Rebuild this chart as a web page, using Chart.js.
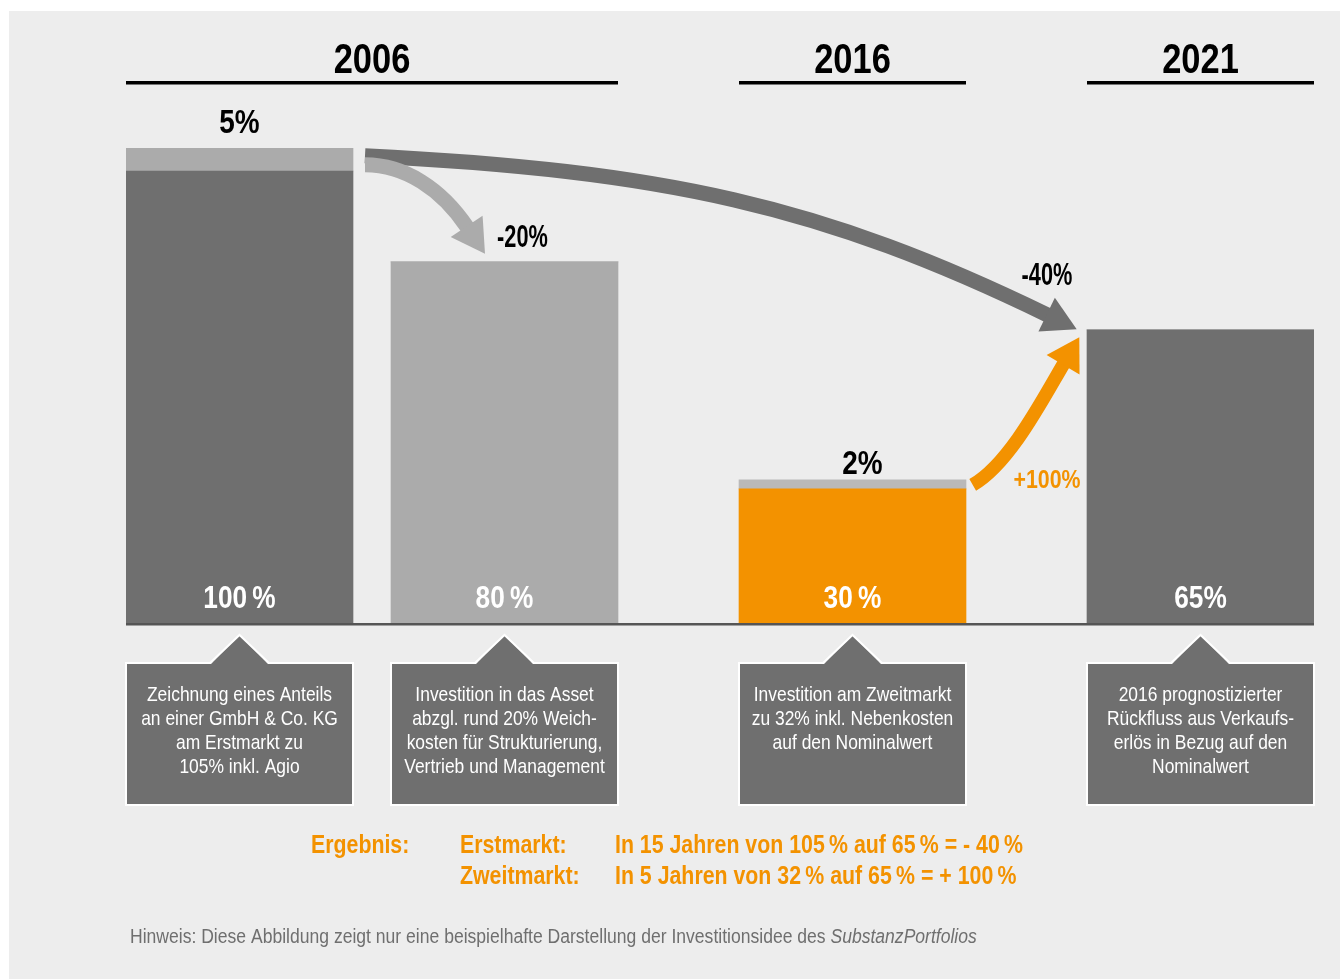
<!DOCTYPE html>
<html>
<head>
<meta charset="utf-8">
<script src="https://cdn.jsdelivr.net/npm/chart.js@4.4.1/dist/chart.umd.min.js"></script>
<style>
  html, body { margin: 0; padding: 0; background: #ffffff; }
  #wrap { width: 1340px; height: 979px; position: relative; }
</style>
</head>
<body>
<div id="wrap"><canvas id="c" width="1340" height="979"></canvas></div>
<script>
// ---------- DATA ----------
const categories   = ['Erstmarkt 2006', 'Asset 2006', 'Zweitmarkt 2016', 'Rückfluss 2021'];
const baseValues   = [100, 80, 30, 65];          // % of nominal value
const costValues   = [5, 0, 2, 0];               // Agio / Nebenkosten on top
const valueLabels  = ['100\u2009%', '80\u2009%', '30\u2009%', '65%'];
const costLabels   = ['5%', '', '2%', ''];
const yearLabels   = ['2006', '2016', '2021'];
const yearGroups   = [[0, 1], [2], [3]];         // bars under each year
const changeLabels = ['-20%', '-40%', '+100%'];  // Asset, Exit vs Erstmarkt, Exit vs Zweitmarkt
const boxTexts = [
  ['Zeichnung eines Anteils', 'an einer GmbH & Co. KG', 'am Erstmarkt zu', '105% inkl. Agio'],
  ['Investition in das Asset', 'abzgl. rund 20% Weich-', 'kosten für Strukturierung,', 'Vertrieb und Management'],
  ['Investition am Zweitmarkt', 'zu 32% inkl. Nebenkosten', 'auf den Nominalwert'],
  ['2016 prognostizierter', 'Rückfluss aus Verkaufs-', 'erlös in Bezug auf den', 'Nominalwert']
];
const resultTitle  = 'Ergebnis:';
const resultLabels = ['Erstmarkt:', 'Zweitmarkt:'];
const resultTexts  = ['In 15 Jahren von 105\u2009% auf 65\u2009% = - 40\u2009%',
                      'In 5 Jahren von 32\u2009% auf 65\u2009% = + 100\u2009%'];
const footText     = 'Hinweis: Diese Abbildung zeigt nur eine beispielhafte Darstellung der Investitionsidee des ';
const footItalic   = 'SubstanzPortfolios';

// ---------- LAYOUT / STYLE ----------
const slotPos = [0, 0.7615, 1.7615, 2.7615];   // horizontal slot of each bar
const halfBar = 0.32615;
const COL_DARK = '#6f6f6f', COL_LIGHT = '#ababab', COL_CAP2 = '#bab9b9', COL_ORANGE = '#f39200';
const FONT = '"Liberation Sans", Arial, sans-serif';
const NARROW = 0.82;   // horizontal condensing (Arial Narrow look)

const baseColors = [COL_DARK, COL_LIGHT, COL_ORANGE, COL_DARK];
const capColors  = [COL_LIGHT, COL_LIGHT, COL_CAP2, COL_LIGHT];

function norm(v) { const l = Math.hypot(v[0], v[1]); return [v[0]/l, v[1]/l]; }

function drawArrow(ctx, start, sDir, sLen, tip, eDir, eLen, headLen, headW, shaftW, color) {
  sDir = norm(sDir); eDir = norm(eDir);
  const end = [tip[0] - eDir[0]*headLen, tip[1] - eDir[1]*headLen];
  const c1 = [start[0] + sDir[0]*sLen, start[1] + sDir[1]*sLen];
  const c2 = [end[0] - eDir[0]*eLen, end[1] - eDir[1]*eLen];
  ctx.save();
  ctx.strokeStyle = color; ctx.fillStyle = color;
  ctx.lineWidth = shaftW; ctx.lineCap = 'butt';
  ctx.beginPath();
  ctx.moveTo(start[0], start[1]);
  ctx.bezierCurveTo(c1[0], c1[1], c2[0], c2[1], end[0] + eDir[0]*1.5, end[1] + eDir[1]*1.5);
  ctx.stroke();
  const px = -eDir[1], py = eDir[0];
  ctx.beginPath();
  ctx.moveTo(end[0] + px*headW/2, end[1] + py*headW/2);
  ctx.lineTo(tip[0], tip[1]);
  ctx.lineTo(end[0] - px*headW/2, end[1] - py*headW/2);
  ctx.closePath();
  ctx.fill();
  ctx.restore();
}

function textWidth(ctx, str, font, k) {
  ctx.font = font;
  return ctx.measureText(str).width * (k || NARROW);
}
function text(ctx, str, x, y, font, color, align, k) {
  ctx.save();
  ctx.font = font; ctx.fillStyle = color; ctx.textAlign = align || 'center'; ctx.textBaseline = 'alphabetic';
  ctx.translate(x, y);
  ctx.scale(k || NARROW, 1);
  ctx.fillText(str, 0, 0);
  ctx.restore();
}

const decor = {
  id: 'decor',
  beforeDraw(chart) {
    const ctx = chart.ctx;
    ctx.save();
    ctx.fillStyle = '#ffffff'; ctx.fillRect(0, 0, chart.width, chart.height);
    ctx.fillStyle = '#ededed'; ctx.fillRect(9, 11, chart.width - 9, chart.height - 11);
    ctx.restore();
  },
  afterDraw(chart) {
    const ctx = chart.ctx;
    const base = chart.getDatasetMeta(0).data;
    const caps = chart.getDatasetMeta(1).data;
    const bars = base.map((b, i) => {
      const w = b.width;
      const stackTop = costValues[i] > 0 ? caps[i].y : b.y;
      return { x: b.x, left: b.x - w/2, right: b.x + w/2, top: b.y, stackTop: stackTop, base: b.base };
    });
    const yBase = chart.scales.y.getPixelForValue(0);

    ctx.save();
    // baseline
    ctx.fillStyle = '#555555';
    ctx.fillRect(bars[0].left, yBase - 2, bars[3].right - bars[0].left, 2.5);

    // year headers
    yearGroups.forEach((g, k) => {
      const l = bars[g[0]].left, r = bars[g[g.length - 1]].right;
      ctx.fillStyle = '#000000';
      ctx.fillRect(l, 81, r - l, 3.5);
      text(ctx, yearLabels[k], (l + r) / 2, 73, 'bold 42px ' + FONT, '#000000');
    });

    // labels inside bars
    bars.forEach((b, i) => {
      text(ctx, valueLabels[i], b.x, yBase - 17, 'bold 32px ' + FONT, '#ffffff');
    });
    // cost labels
    text(ctx, costLabels[0], bars[0].x, bars[0].stackTop - 15, 'bold 34px ' + FONT, '#000000');
    text(ctx, costLabels[2], bars[2].x + 10, bars[2].stackTop - 6, 'bold 34px ' + FONT, '#000000');

    // arrows
    drawArrow(ctx, [bars[0].right + 12, bars[0].stackTop + 7.5], [1, 0.05], 300,
              [bars[3].left - 10.3, bars[3].top - 0.7], [0.899, 0.437], 250,
              33.4, 37.5, 15, COL_DARK);
    drawArrow(ctx, [bars[0].right + 12, bars[0].stackTop + 16.5], [1, 0], 40,
              [bars[1].x - 19.5, bars[1].top - 8], [0.557, 0.831], 45,
              33, 38.4, 15, COL_LIGHT);
    drawArrow(ctx, [bars[2].right + 6.7, bars[2].stackTop + 5.2], [0.868, -0.497], 42,
              [bars[3].left - 7.7, bars[3].top + 7.3], [0.507, -0.862], 42,
              32, 38.2, 13.5, COL_ORANGE);

    // change labels
    text(ctx, changeLabels[0], bars[1].x + 18, bars[1].top - 15, 'bold 32px ' + FONT, '#000000', 'center', 0.68);
    text(ctx, changeLabels[1], bars[3].left - 40, bars[3].top - 45, 'bold 32px ' + FONT, '#000000', 'center', 0.68);
    text(ctx, changeLabels[2], bars[3].left - 40, bars[2].stackTop + 8, 'bold 26px ' + FONT, COL_ORANGE);

    // callout boxes
    bars.forEach((b, i) => {
      const top = yBase + 38, bottom = yBase + 180;
      ctx.fillStyle = COL_DARK;
      ctx.strokeStyle = '#ffffff';
      ctx.lineWidth = 2;
      ctx.fillRect(b.left, top, b.right - b.left, bottom - top);
      ctx.strokeRect(b.left, top, b.right - b.left, bottom - top);
      const apexY = yBase + 10, hw = 28.5;
      ctx.beginPath();
      ctx.moveTo(b.x - hw, top + 1);
      ctx.lineTo(b.x, apexY);
      ctx.lineTo(b.x + hw, top + 1);
      ctx.closePath();
      ctx.fill();
      ctx.beginPath();
      ctx.moveTo(b.x - hw - 1, top);
      ctx.lineTo(b.x, apexY);
      ctx.lineTo(b.x + hw + 1, top);
      ctx.stroke();
      boxTexts[i].forEach((line, j) => {
        text(ctx, line, b.x, top + 38 + j * 24, '21px ' + FONT, '#ffffff', 'center', 0.83);
      });
    });

    // results
    const rf = 'bold 26px ' + FONT;
    text(ctx, resultTitle, 311, 853, rf, COL_ORANGE, 'left');
    resultLabels.forEach((l, k) => {
      text(ctx, l, 460, 853 + k * 31, rf, COL_ORANGE, 'left');
      text(ctx, resultTexts[k], 615, 853 + k * 31, rf, COL_ORANGE, 'left');
    });

    // footnote
    const ff = '19.5px ' + FONT;
    text(ctx, footText, 130, 943, ff, '#6f6f6f', 'left', 0.9);
    const w = textWidth(ctx, footText, ff, 0.9);
    text(ctx, footItalic, 130 + w, 943, 'italic ' + ff, '#6f6f6f', 'left', 0.9);
    ctx.restore();
  }
};

new Chart(document.getElementById('c'), {
  type: 'bar',
  data: {
    datasets: [
      { label: 'Wert', data: baseValues.map((v, i) => ({ x: slotPos[i], y: v })),
        backgroundColor: baseColors, borderWidth: 0, barThickness: 227 },
      { label: 'Kosten', data: costValues.map((v, i) => ({ x: slotPos[i], y: v })),
        backgroundColor: capColors, borderWidth: 0, barThickness: 227 }
    ]
  },
  options: {
    responsive: false,
    animation: false,
    events: [],
    layout: { padding: { left: 126, right: 26, top: 125.6, bottom: 354 } },
    plugins: { legend: { display: false }, tooltip: { enabled: false }, title: { display: false } },
    scales: {
      x: { type: 'linear', display: false, stacked: true, offset: false,
           min: slotPos[0] - halfBar, max: slotPos[slotPos.length - 1] + halfBar },
      y: { display: false, stacked: true, min: 0, max: 110 }
    }
  },
  plugins: [decor]
});
</script>
</body>
</html>
